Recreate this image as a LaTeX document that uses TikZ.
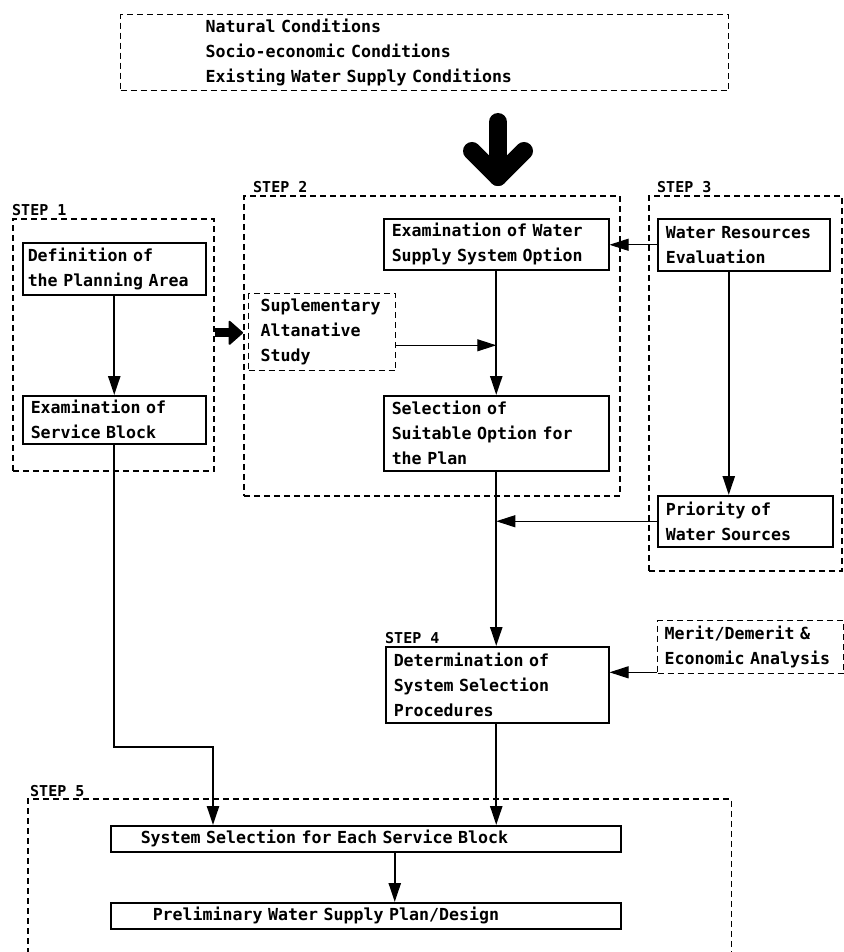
\documentclass[tikz,border=0pt]{standalone}
\usepackage{fontspec}
\setmainfont{DejaVu Sans Mono}
\usetikzlibrary{arrows.meta,positioning,calc}
\tikzset{
	wbox/.style={draw=black, line width=1.5pt, fill=white, inner xsep=8pt,
		inner ysep=2pt, align=left, anchor=north west,
		font=\fontsize{16.6pt}{25pt}\selectfont\bfseries},
	dbox/.style={wbox, dash pattern=on 6pt off 4pt, line width=1.4pt},
	stepbox/.style={draw=black, dash pattern=on 6pt off 4pt, line width=1.6pt,
		anchor=north west, inner sep=0pt},
	stepline/.style={draw=black, dash pattern=on 6pt off 4pt, line width=1.6pt},
	steplbl/.style={inner xsep=0pt, inner ysep=2pt,
		font=\fontsize{15pt}{17pt}\selectfont\bfseries},
	marr/.style={-{Triangle[length=19pt,width=12pt]}, line width=2.4pt},
	tarr/.style={-{Triangle[length=19pt,width=12pt]}, line width=1pt},
	fatarr/.style={-{Triangle[length=15pt,width=26pt,line width=2pt,round]},
		line width=9pt},
	bigarr/.style={line width=18pt, line cap=round, line join=round},
}

\begin{document}
\begin{tikzpicture}[x=1pt, y=-1pt]
	\useasboundingbox[fill=white] (0,0) rectangle (843,952);
	% step frames
	\node[stepbox, minimum width=201pt, minimum height=252pt] (step1) at (12,218) {};
	\node[stepbox, minimum width=376pt, minimum height=300pt] (step2) at (243,195) {};
	\node[stepbox, minimum width=193pt, minimum height=375pt] (step3) at (648,195) {};
	\node[stepbox, draw=none, minimum width=702pt, minimum height=153pt] (step5) at (28,799) {};
	\draw[stepline] (step5.south west) -- (step5.north west) -- (step5.north east) -- (step5.south east);
	\node[steplbl, above right=0pt and 0pt of step1.north west] (lbl1) {STEP 1};
	\node[steplbl, above right=0pt and 10pt of step2.north west] (lbl2) {STEP 2};
	\node[steplbl, above right=0pt and 9pt of step3.north west] (lbl3) {STEP 3};
	\node[steplbl, above right=0pt and 2pt of step5.north west] (lbl5) {STEP 5};
	% boxes
	\node[dbox, inner xsep=85pt, text width=438pt, minimum height=76pt, line width=1.2pt] (cond) at (120,14)
		{Natural Conditions\\Socio-economic Conditions\\Existing Water Supply Conditions};
	\node[wbox, inner xsep=5pt, text width=173pt, minimum height=52pt] (def) at (22,242)
		{Definition of\\the Planning Area};
	\node[wbox, text width=167pt, minimum height=48pt] (serv) at (22,395)
		{Examination of\\Service Block};
	\node[wbox, text width=209pt, minimum height=51pt] (examws) at (383,218)
		{Examination of Water\\Supply System Option};
	\node[wbox, text width=209pt, minimum height=75pt] (sel) at (383,395)
		{Selection of\\Suitable Option for\\the Plan};
	\node[dbox, inner xsep=12pt, text width=123pt, minimum height=77pt] (supp) at (248,293)
		{Suplementary\\Altanative\\Study};
	\node[wbox, text width=156pt, minimum height=52pt] (wr) at (657,218)
		{Water Resources\\Evaluation};
	\node[wbox, text width=159pt, minimum height=51pt] (prio) at (657,495)
		{Priority of\\Water Sources};
	\node[wbox, text width=207pt, minimum height=76pt] (det) at (385,646)
		{Determination of\\System Selection\\Procedures};
	\node[steplbl, above right=0pt and 0pt of det.north west] (lbl4) {STEP 4};
	\node[dbox, inner xsep=7pt, text width=172pt, minimum height=53pt] (merit) at (657,620)
		{Merit/Demerit \&\\Economic Analysis};
	\node[wbox, inner xsep=30pt, text width=450pt, minimum height=26pt] (sys) at (110,825)
		{System Selection for Each Service Block};
	\node[wbox, inner xsep=42pt, text width=426pt, minimum height=26pt] (prelim) at (110,902)
		{Preliminary Water Supply Plan/Design};
	% big arrows
	\coordinate (bigtop) at (498,122);
	\coordinate (bigtip) at (498,177);
	\draw[bigarr] (bigtop) -- (bigtip);
	\draw[bigarr] (bigtip) ++(-26,-26) -- (bigtip) -- ++(26,-26);
	\coordinate (fatst) at ([yshift=12pt]step1.east);
	\draw[fatarr] (fatst) -- (fatst -| step2.west);
	% connectors
	\draw[marr] (def) -- (serv);
	\draw[marr] (examws) -- (sel);
	\draw[tarr] (supp.-10) -- (supp.-10 -| examws.south);
	\draw[tarr] (wr.west) -- (wr.west -| examws.east);
	\coordinate (wrout) at ([xshift=-15pt]wr.south);
	\draw[marr] (wrout) -- (wrout |- prio.north);
	\draw[marr] (sel.south) -- (sel.south |- det.north);
	\draw[tarr] (prio.west) -- (prio.west -| sel.south);
	\draw[tarr] (merit.195) -- (merit.195 -| det.east);
	\coordinate (bend) at (213,747);
	\draw[marr] (serv.south) |- (bend) -- (bend |- sys.north);
	\draw[marr] (sel.south |- det.south) -- (sel.south |- sys.north);
	\coordinate (sysout) at ([xshift=29pt]sys.south);
	\draw[marr] (sysout) -- (sysout |- prelim.north);
\end{tikzpicture}
\end{document}
